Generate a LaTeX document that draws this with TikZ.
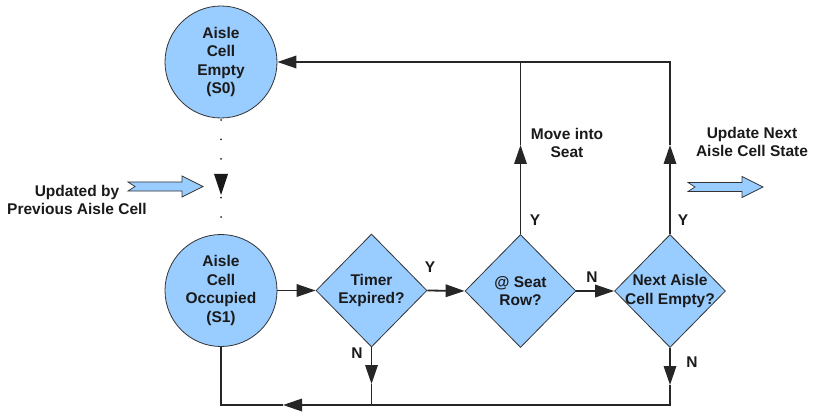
\documentclass[tikz,border=0pt]{standalone}
\usepackage{fontspec}
\setmainfont{Liberation Sans}
\usetikzlibrary{shapes.geometric,arrows.meta}
\definecolor{fillblue}{HTML}{99CCFF}
\definecolor{edgec}{HTML}{333333}
\definecolor{ink}{HTML}{1A1A1A}
\begin{document}
\begin{tikzpicture}[x=1pt,y=-1pt,
  font=\fontsize{15.5}{18.5}\selectfont\bfseries,
  state/.style={circle, draw=edgec, line width=0.8pt, fill=fillblue, minimum size=112pt, inner sep=0pt, align=center, text=ink},
  decision/.style={diamond, draw=edgec, line width=0.8pt, fill=fillblue, minimum width=111pt, minimum height=113pt, inner sep=0pt},
  txt/.style={align=center, text=ink, inner sep=0pt},
  flow/.style={line width=1.8pt, draw=black!85},
  tip/.style={-{Triangle[length=19pt,width=12.5pt]}},
  blockarrow/.pic={\path[fill=fillblue, draw=edgec, line width=0.7pt]
     (0,-4.5) -- (54,-4.5) -- (54,-10.5) -- (75,0) -- (54,10.5) -- (54,4.5) -- (0,4.5) -- (7,0) -- cycle;}
]
\useasboundingbox (0,0) rectangle (813,414);

% dotted link between the two states
\coordinate (dtop) at (221,120);
\coordinate (dbot) at (221,217);
\draw[line width=2pt, line cap=round, dash pattern=on 0pt off 19.4pt, black!85] (dtop) -- (dbot);
\fill[black!90] (214,174) -- (228,174) -- (221,195) -- cycle;

% states and decisions
\node[state] (s0) at (221,62) {Aisle\\Cell\\Empty\\(S0)};
\node[state] (s1) at (221,290.5) {Aisle\\Cell\\Occupied\\(S1)};
\node[decision] (d1) at (371.5,290.5) {};
\node[decision] (d2) at (520.5,291) {};
\node[decision] (d3) at (670,291) {};
\node[txt] (t1) at (d1) {Timer\\Expired?};
\node[txt] (t2) at (d2) {@ Seat\\Row?};
\node[txt] (t3) at (d3) {Next Aisle\\Cell Empty?};

% connectors
\coordinate (u2) at (520.5,145);
\coordinate (u3) at (670,145);
\coordinate (n1) at (371.5,384);
\coordinate (n3) at (670,385);
\coordinate (bl) at (283,405);

\draw[flow,tip] (s1.east) -- (d1.west);
\draw[flow,tip] (d1.east) -- (d2.west);
\draw[flow,tip] (d2.east) -- (d3.west);
\draw[flow,tip] (d2.north) -- (u2);
\draw[flow] (u2) -- (u2 |- s0.east);
\draw[flow,tip] (d3.north) -- (u3);
\draw[flow,tip] (u3) |- (s0.east);
\draw[flow,tip] (d3.south) -- (n3);
\draw[flow,tip] (n3) |- (bl);
\draw[flow] (bl) -| (s1.south);
\draw[flow,tip] (d1.south) -- (n1);
\draw[flow] (n1) -- (n1 |- bl);

% branch labels
\node[txt] (y1) at (430,267) {Y};
\node[txt] (n1l) at (357,353) {N};
\node[txt] (y2) at (535,220) {Y};
\node[txt] (n2l) at (592,277) {N};
\node[txt] (y3) at (683,220) {Y};
\node[txt] (n3l) at (692,362) {N};

% notes
\node[txt] (mv) at (567,143) {Move into\\Seat};
\node[txt] (up) at (752,142) {Update Next\\Aisle Cell State};
\node[txt] (pv) at (77,200) {Updated by\\Previous Aisle Cell};
\pic at (128,186.5) {blockarrow};
\pic at (688,187) {blockarrow};
\end{tikzpicture}
\end{document}
